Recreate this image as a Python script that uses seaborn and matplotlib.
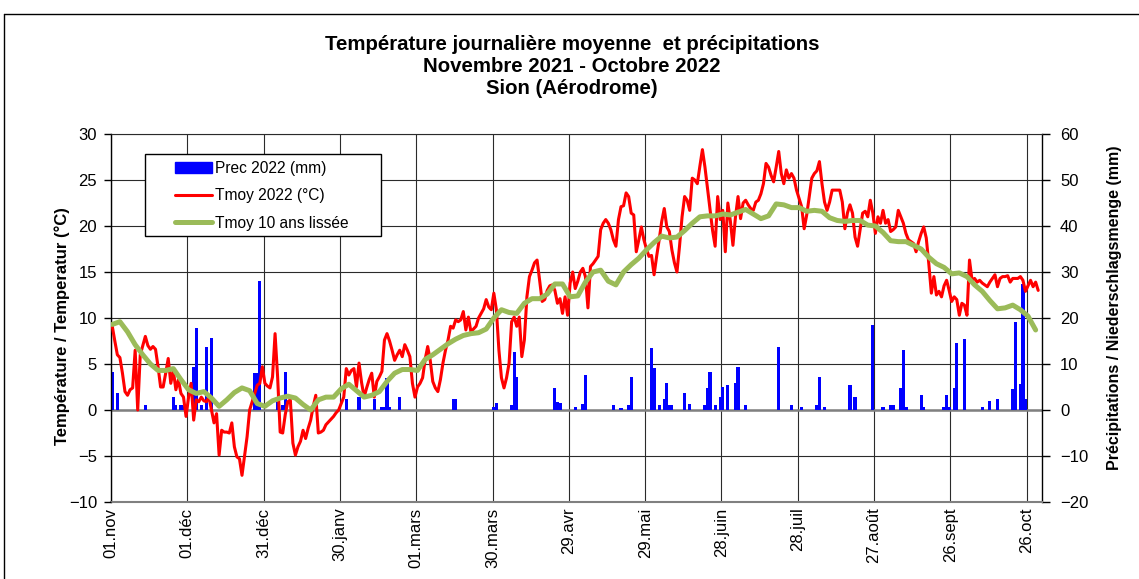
import numpy as np
import pandas as pd
import matplotlib
matplotlib.use("Agg")
import matplotlib.pyplot as plt
import seaborn as sns
from matplotlib.patches import Patch, Rectangle
from matplotlib.lines import Line2D

# Daily mean temperature 2022 (°C), one value per day from 01.nov 2021
tmoy_2022 = [
    9.1, 7.5, 6.0, 5.7, 4.0, 2.0, 1.6, 2.2, 2.4, 6.5,
    0.0, 6.0, 7.0, 8.0, 7.0, 6.6, 6.9, 6.6, 4.7, 2.5,
    2.5, 4.0, 5.6, 2.9, 4.3, 2.2, 3.3, 1.8, 1.4, -0.7,
    1.4, 2.9, -1.1, 1.1, 0.9, 1.4, 1.0, 0.9, 1.4, 0.0,
    -1.4, -0.4, -4.9, -2.2, -2.4, -2.4, -2.5, -1.4, -4.0, -5.1,
    -5.3, -7.1, -5.0, -2.9, 0.0, 0.9, 1.8, 2.7, 2.9, 4.7,
    2.9, 2.6, 2.4, 3.6, 8.3, 3.6, -2.4, -2.5, -0.5, 0.9,
    1.1, -3.6, -4.9, -4.0, -3.4, -2.2, -3.1, -2.0, -1.1, 0.4,
    1.6, -2.5, -2.4, -2.2, -1.6, -1.3, -1.0, -0.7, -0.3, 0.0,
    0.7, 1.4, 4.5, 3.8, 4.3, 4.5, 2.5, 5.1, 3.0, 1.4,
    2.4, 3.3, 4.0, 1.4, 3.1, 3.6, 4.2, 7.6, 8.3, 7.5,
    6.5, 5.4, 6.0, 6.5, 5.8, 7.1, 6.5, 5.8, 2.9, 1.4,
    2.5, 2.9, 3.5, 5.5, 6.9, 5.4, 3.1, 2.4, 2.0, 3.3,
    5.1, 6.5, 7.6, 9.1, 8.9, 9.8, 9.6, 9.8, 10.7, 8.7,
    10.1, 8.5, 8.8, 9.1, 10.0, 10.5, 11.0, 12.0, 11.2, 10.9,
    12.7, 10.9, 6.5, 3.5, 2.4, 3.5, 5.1, 9.6, 10.1, 9.1,
    10.1, 5.8, 7.6, 12.3, 14.5, 15.2, 16.0, 16.3, 14.1, 11.8,
    12.0, 13.0, 13.5, 13.6, 13.0, 11.6, 12.1, 10.5, 12.3, 10.3,
    13.8, 15.0, 13.2, 14.0, 15.0, 15.4, 14.5, 11.1, 15.6, 15.9,
    16.3, 16.7, 19.6, 20.3, 20.7, 20.3, 19.6, 18.5, 17.8, 20.7,
    22.1, 22.2, 23.6, 23.2, 21.4, 21.2, 17.2, 18.5, 19.9, 18.5,
    17.5, 16.7, 16.8, 14.7, 16.7, 18.5, 20.5, 21.9, 19.9, 19.4,
    17.4, 16.0, 15.0, 17.8, 21.0, 23.2, 22.8, 21.7, 25.2, 25.0,
    24.6, 26.5, 28.3, 26.4, 24.1, 21.7, 19.5, 17.8, 23.2, 20.7,
    21.7, 17.2, 22.5, 20.5, 17.9, 21.0, 23.2, 20.8, 22.5, 22.8,
    22.3, 21.9, 21.7, 22.6, 22.8, 23.5, 24.6, 26.8, 26.4, 25.5,
    24.8, 26.4, 28.1, 25.7, 24.6, 26.1, 25.2, 25.7, 25.2, 23.9,
    23.0, 22.1, 19.7, 21.2, 23.2, 25.2, 25.7, 26.0, 27.0, 24.6,
    22.6, 21.7, 22.6, 23.9, 23.9, 23.9, 23.9, 22.6, 19.7, 21.4,
    22.3, 21.4, 18.8, 17.8, 19.6, 21.4, 21.6, 21.0, 22.8, 21.4,
    19.2, 21.0, 20.3, 21.7, 20.3, 20.7, 19.4, 19.6, 19.9, 21.7,
    21.0, 20.3, 19.2, 18.5, 18.3, 18.1, 17.2, 18.3, 19.2, 19.9,
    18.7, 15.9, 12.7, 14.5, 12.5, 12.9, 12.3, 13.5, 14.1, 13.0,
    11.8, 12.3, 12.0, 10.3, 11.6, 11.4, 10.3, 16.3, 14.1, 14.3,
    13.9, 14.1, 13.8, 13.6, 13.4, 13.9, 14.3, 14.7, 13.4, 14.3,
    14.5, 14.5, 14.6, 13.9, 14.3, 14.3, 14.3, 14.5, 14.1, 12.9,
    13.5, 14.1, 13.4, 13.9, 13.0,
]
days = np.arange(len(tmoy_2022))

# Smoothed 10-year mean (°C), read every 3 days
tmoy_10ans_day = list(range(0, 364, 3))
tmoy_10ans = [
    9.3, 9.6, 8.5, 7.1, 6.0, 5.0, 4.3, 4.3, 4.5, 3.3,
    2.2, 1.8, 2.0, 1.3, 0.4, 1.1, 1.9, 2.4, 2.1, 0.7,
    0.4, 1.0, 1.3, 1.5, 1.3, 0.6, 0.0, 1.1, 1.4, 1.4,
    2.3, 2.8, 2.1, 1.4, 1.6, 2.0, 3.1, 4.0, 4.4, 4.4,
    4.3, 5.5, 6.0, 6.6, 7.2, 7.7, 8.1, 8.3, 8.4, 8.8,
    10.0, 10.9, 10.6, 10.5, 11.6, 12.1, 12.1, 12.6, 13.7, 13.7,
    12.3, 12.4, 13.9, 15.0, 15.2, 14.0, 13.6, 15.0, 15.8, 16.5,
    17.4, 18.2, 18.9, 18.7, 18.8, 19.5, 20.3, 21.0, 21.1, 21.1,
    21.3, 21.2, 21.5, 21.8, 21.3, 20.8, 21.1, 22.4, 22.3, 22.0,
    22.0, 21.6, 21.7, 21.6, 20.9, 20.6, 20.5, 20.6, 20.6, 20.1,
    20.0, 19.3, 18.4, 18.3, 18.3, 17.9, 17.5, 16.6, 15.9, 15.5,
    14.8, 14.9, 14.5, 13.6, 12.9, 11.9, 11.0, 11.1, 11.4, 10.9,
    10.2, 8.7,
]

# Precipitation 2022 (mm), rainy days only
rain_day = [
    0, 2, 13, 24, 25, 27, 28, 32, 33, 35, 37, 39, 56, 57, 58, 65, 67, 68,
    92, 97, 103, 106, 107, 108, 109, 113, 134, 135, 150, 151, 157, 158, 159,
    174, 175, 176, 182, 185, 186, 197, 200, 203, 204, 212, 213, 215, 217,
    218, 219, 220, 225, 227, 233, 234, 235, 237, 239, 240, 242, 245, 246,
    249, 262, 267, 271, 277, 278, 280, 290, 292, 299, 303, 306, 307, 310,
    311, 312, 318, 319, 327, 328, 329, 331, 332, 335, 342, 345, 348, 354,
    355, 357, 358, 359,
]
rain_mm = [
    8.3, 3.6, 1.0, 2.9, 1.0, 1.0, 0.8, 9.4, 17.8, 1.0, 13.8, 15.6, 8.0, 8.0,
    28.0, 1.8, 1.0, 8.3, 2.5, 2.9, 2.5, 0.7, 0.7, 6.9, 0.7, 2.9, 2.3, 2.4,
    0.7, 1.6, 1.0, 12.7, 7.2, 4.7, 1.8, 1.5, 0.6, 1.4, 7.6, 1.1, 0.5, 1.1,
    7.2, 13.4, 9.1, 1.1, 2.5, 5.8, 1.1, 1.1, 3.6, 1.4, 1.1, 4.7, 8.3, 1.1,
    2.9, 5.1, 5.4, 5.8, 9.4, 1.0, 13.6, 1.1, 0.7, 1.1, 7.2, 0.7, 5.4, 2.9,
    18.5, 0.6, 1.1, 1.1, 4.7, 13.0, 0.7, 3.3, 0.7, 0.7, 3.3, 0.7, 4.7, 14.6,
    15.4, 0.7, 2.0, 2.3, 4.5, 19.2, 5.7, 27.5, 2.5,
]

tick_labels = ["01.nov", "01.déc", "31.déc", "30.janv", "01.mars", "30.mars",
               "29.avr", "29.mai", "28.juin", "28.juil", "27.août", "26.sept",
               "26.oct"]

sns.set_style("white")
plt.rcParams["font.family"] = ["Liberation Sans", "DejaVu Sans"]
plt.rcParams["text.color"] = "black"
plt.rcParams["xtick.color"] = "black"
plt.rcParams["ytick.color"] = "black"

W, H = 1139, 579
fig = plt.figure(figsize=(W / 100, H / 100), dpi=100)
ax_p = fig.add_axes([111 / W, 1 - 502 / H, (1042 - 111) / W, (502 - 134) / H])
ax_t = ax_p.twinx()

# precipitation bars (right axis)
sns.barplot(x=rain_day, y=rain_mm, orient="x", native_scale=True, width=1.25,
            color="#0000FF", saturation=1, linewidth=0, errorbar=None, ax=ax_p)

# temperatures (left axis)
sns.lineplot(x=days, y=tmoy_2022, color="#FF0000", linewidth=2.2,
             solid_joinstyle="round", ax=ax_t)
sns.lineplot(x=tmoy_10ans_day, y=tmoy_10ans, color="#9BBB59", linewidth=3.6,
             solid_joinstyle="round", solid_capstyle="round", ax=ax_t)

# axes: temperature on the left, precipitation on the right
ax_t.yaxis.tick_left()
ax_p.yaxis.tick_right()
ax_t.set_ylim(-10, 30)
ax_t.set_yticks(range(-10, 31, 5))
ax_p.set_ylim(-20, 60)
ax_p.set_yticks(range(-20, 61, 10))
tick_pos = [30 * i - 0.5 for i in range(len(tick_labels))]
ax_p.set_xticks(tick_pos)
ax_p.set_xticklabels(tick_labels, rotation=90)
ax_p.set_xlim(-0.5, 365.5)
for a in (ax_p, ax_t):
    a.set_xlabel("")
    a.set_ylabel("")

ax_t.tick_params(axis="y", direction="out", length=5, width=1, pad=5,
                 labelsize=12, colors="black")
ax_p.tick_params(axis="y", direction="out", length=6, width=1, pad=7,
                 labelsize=12, colors="black")
ax_p.tick_params(axis="x", length=0, pad=4, labelsize=12, labelcolor="black")

ax_p.grid(True, color="#2b2b2b", linewidth=0.8)
ax_p.set_axisbelow(True)
ax_p.axhline(0, color="#808080", linewidth=1.8, zorder=0.9)

for s in ax_t.spines.values():
    s.set_visible(False)
ax_p.spines["bottom"].set_color("#808080")
ax_p.spines["bottom"].set_linewidth(1.5)
ax_p.spines["top"].set_color("#2b2b2b")
ax_p.spines["top"].set_linewidth(0.8)
for side in ("left", "right"):
    ax_p.spines[side].set_color("black")
    ax_p.spines[side].set_linewidth(1.0)

# titles
fig.text(0.502, 1 - 35 / H,
         "Température journalière moyenne  et précipitations\n"
         "Novembre 2021 - Octobre 2022\nSion (Aérodrome)",
         ha="center", va="top", fontsize=14.7, fontweight="bold", linespacing=1.2)
fig.text(62 / W, 1 - 326 / H, "Température / Temperatur (°C)", rotation=90,
         ha="center", va="center", fontsize=12, fontweight="bold")
fig.text(1115 / W, 1 - 308 / H, "Précipitations / Niederschlagsmenge (mm)",
         rotation=90, ha="center", va="center", fontsize=11.5, fontweight="bold")

# legend with its own wide box
fig.add_artist(Rectangle((145 / W, 1 - 236 / H), (381 - 145) / W, (236 - 154) / H,
                         transform=fig.transFigure, facecolor="white",
                         edgecolor="black", linewidth=1, zorder=2))
handles = [Patch(facecolor="#0000FF", edgecolor="#0000FF"),
           Line2D([], [], color="#FF0000", linewidth=2.2),
           Line2D([], [], color="#9BBB59", linewidth=3.6)]
fig.legend(handles, ["Prec 2022 (mm)", "Tmoy 2022 (°C)", "Tmoy 10 ans lissée"],
           loc="upper left", bbox_to_anchor=(175 / W, 1 - 161 / H),
           frameon=False, fontsize=11.2, handlelength=2.4, handletextpad=0.15,
           labelspacing=0.8, borderpad=0, borderaxespad=0, labelcolor="black")

# outer chart border
fig.add_artist(Line2D([4 / W, 1], [1 - 14 / H, 1 - 14 / H], transform=fig.transFigure,
                      color="black", linewidth=1))
fig.add_artist(Line2D([4 / W, 4 / W], [0, 1 - 14 / H], transform=fig.transFigure,
                      color="black", linewidth=1))

fig.savefig("out.png", dpi=100)
